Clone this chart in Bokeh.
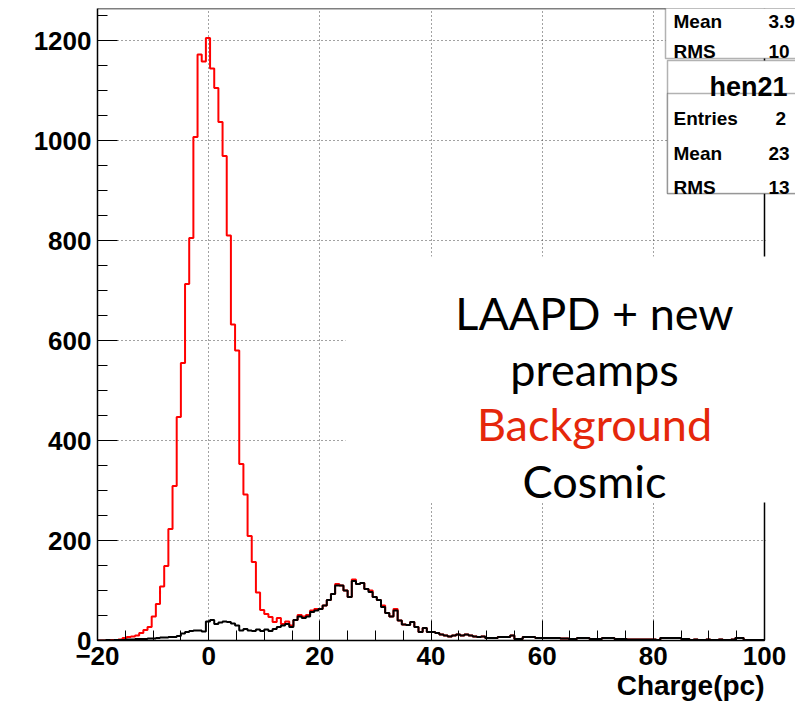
import numpy as np
from bokeh.plotting import figure
from bokeh.models import Range1d, FixedTicker, BoxAnnotation, Label, Span, Title
from bokeh.embed import file_html
from bokeh.resources import INLINE

# ---------------- data ----------------
x_lo, x_hi, bin_w = -20.0, 100.0, 0.75
y_max = 1264

background = [
    0, 0, 0, 1, 0, 2, 5, 7, 8, 10,
    15, 21, 27, 48, 73, 108, 149, 223, 309, 447,
    555, 713, 805, 1007, 1172, 1158, 1205, 1144, 1105, 1037,
    969, 810, 632, 580, 353, 292, 209, 157, 96, 61,
    53, 47, 37, 45, 33, 38, 30, 41, 51, 48,
    51, 60, 63, 63, 70, 81, 93, 113, 110, 100,
    87, 122, 113, 115, 103, 100, 87, 81, 70, 55,
    48, 63, 40, 32, 31, 37, 27, 17, 25, 17,
    17, 15, 12, 10, 8, 10, 12, 10, 12, 10,
    8, 7, 8, 5, 5, 5, 7, 7, 7, 10,
    3, 3, 7, 7, 7, 5, 5, 5, 5, 5,
    5, 4, 4, 3, 3, 5, 5, 5, 3, 3,
    3, 5, 5, 5, 3, 3, 3, 2, 2, 2,
    2, 2, 2, 2, 1, 5, 5, 5, 5, 5,
    3, 3, 1, 2, 1, 1, 2, 1, 1, 2,
    1, 1, 2, 5, 5, 1, 1, 1, 1, 1,
]

cosmic = [
    0, 0, 1, 0, 1, 1, 1, 2, 2, 3,
    3, 3, 4, 4, 5, 6, 6, 7, 7, 9,
    14, 17, 19, 20, 20, 18, 38, 41, 33, 36,
    38, 37, 34, 30, 20, 23, 20, 19, 22, 19,
    22, 19, 23, 27, 30, 33, 27, 41, 48, 45,
    48, 57, 60, 63, 70, 81, 93, 110, 110, 100,
    87, 119, 113, 115, 103, 97, 87, 81, 67, 55,
    48, 60, 40, 32, 31, 37, 27, 17, 25, 17,
    17, 15, 12, 10, 8, 10, 12, 10, 12, 10,
    8, 7, 8, 5, 5, 5, 7, 7, 7, 10,
    3, 3, 7, 7, 7, 5, 5, 5, 5, 5,
    5, 4, 4, 3, 3, 5, 5, 5, 3, 3,
    3, 5, 5, 5, 3, 3, 3, 2, 2, 2,
    2, 2, 2, 2, 1, 5, 5, 5, 5, 5,
    3, 3, 1, 2, 1, 1, 2, 1, 1, 2,
    1, 1, 2, 5, 5, 1, 1, 1, 1, 1,
]

x_ticks = [-20, 0, 20, 40, 60, 80, 100]
y_ticks = [0, 200, 400, 600, 800, 1000, 1200]
x_minor_step = 5
y_minor_step = 50

x_title = "Charge(pc)"
stats_title = "hen21"
stats_prev = [("Mean", "3.9"), ("RMS", "10")]
stats_cur = [("Entries", "2"), ("Mean", "23"), ("RMS", "13")]
note_lines = [("LAAPD + new", "black"), ("preamps", "black"),
              ("Background", "#e5270b"), ("Cosmic", "black")]

# ---------------- layout ----------------
W, H = 795, 705
FL, FR, FT, FB = 97, 764, 8, 640   # histogram frame edges in pixels


def dx(px):
    return x_lo + (px - FL) * (x_hi - x_lo) / (FR - FL)


def dy(py):
    return (FB - py) * y_max / (FB - FT)


# the plotting area runs to the right window edge so that the stats boxes show
p = figure(width=W, height=H,
           x_range=Range1d(x_lo, dx(W)), y_range=Range1d(0, y_max),
           output_backend="svg", toolbar_location=None,
           min_border_left=FL, min_border_right=0,
           min_border_top=FT, min_border_bottom=H - FB)

p.background_fill_color = "white"
p.border_fill_color = "white"
p.outline_line_color = None

p.xaxis.ticker = FixedTicker(ticks=x_ticks,
                             minor_ticks=list(np.arange(x_lo, x_hi + 0.1, x_minor_step)))
p.yaxis.ticker = FixedTicker(ticks=y_ticks,
                             minor_ticks=list(np.arange(0, y_max, y_minor_step)))
p.xaxis.bounds = (x_lo, x_hi)

for ax in (p.xaxis[0], p.yaxis[0]):
    ax.major_tick_in = 20
    ax.major_tick_out = 0
    ax.minor_tick_in = 10
    ax.minor_tick_out = 0
    ax.major_tick_line_color = "black"
    ax.minor_tick_line_color = "black"
    ax.axis_line_color = "black"
    ax.axis_line_width = 1.5
    ax.major_label_text_font = "Liberation Sans"
    ax.major_label_text_font_style = "bold"
    ax.major_label_text_font_size = "26px"
    ax.major_label_text_color = "black"
p.xaxis.major_label_standoff = 6
p.yaxis.major_label_standoff = 6

for g in (p.xgrid[0], p.ygrid[0]):
    g.grid_line_color = "#444444"
    g.grid_line_dash = "1 3"
    g.grid_line_width = 1

# x-axis title, right aligned at the end of the axis
p.add_layout(Title(text=x_title, align="right", offset=(W - FR), standoff=0,
                   text_font="Liberation Sans", text_font_style="bold",
                   text_font_size="28px", text_color="black"), "below")

# ---------------- histograms ----------------
edges = x_lo + bin_w * np.arange(len(background) + 1)
p.step(edges, np.append(background, background[-1]), mode="after",
       line_color="#ff0000", line_width=2)
p.step(edges, np.append(cosmic, cosmic[-1]), mode="after",
       line_color="black", line_width=2)

# ---------------- frame, panels, stats boxes ----------------
white = dict(fill_color="white", fill_alpha=1.0, line_color=None)
# blank strip right of the histogram frame
p.add_layout(BoxAnnotation(left=dx(FR + 1.2), right=dx(W + 10), top=dy(150), bottom=dy(FB + 10), **white))
# top and right frame edges
p.add_layout(Span(location=x_hi, dimension="height", line_color="black", line_width=1.5))
p.add_layout(Span(location=y_max, dimension="width", line_color="black", line_width=1.5))

# white text panel (overlay of the slide)
p.add_layout(BoxAnnotation(left=dx(345), right=dx(W + 10), top=dy(256), bottom=dy(502), **white))

box_kw = dict(fill_color="white", fill_alpha=1.0, line_color="black", line_width=1.5)
p.add_layout(BoxAnnotation(left=dx(665), right=dx(W + 20), top=dy(-10), bottom=dy(58), **box_kw))
p.add_layout(BoxAnnotation(left=dx(667), right=dx(W + 20), top=dy(60), bottom=dy(193), **box_kw))
p.add_layout(BoxAnnotation(left=dx(667), right=dx(W + 20), top=dy(93), bottom=dy(193), **box_kw))

sfont = dict(text_font="Liberation Sans", text_font_style="bold",
             text_font_size="19px", text_color="black", text_baseline="alphabetic")
for (name, val), py in zip(stats_prev, [21, 51]):
    p.add_layout(Label(x=dx(673), y=dy(py), text=name, **sfont))
    p.add_layout(Label(x=dx(768), y=dy(py), text=val, **sfont))
p.add_layout(Label(x=dx(709), y=dy(86), text=stats_title, text_font="Liberation Sans",
                   text_font_style="bold", text_font_size="27px", text_color="black",
                   text_baseline="alphabetic"))
for (name, val), py in zip(stats_cur, [118, 153, 187]):
    p.add_layout(Label(x=dx(673), y=dy(py), text=name, **sfont))
    p.add_layout(Label(x=dx(775 if name == "Entries" else 768), y=dy(py), text=val, **sfont))

# slide text
for (txt, col), py in zip(note_lines, [312, 368, 423, 480]):
    p.add_layout(Label(x=dx(594), y=dy(py), text=txt, text_align="center",
                       text_baseline="alphabetic", text_font="Lato",
                       text_font_size="45px", text_color=col))

open("out.html", "w").write(file_html(p, INLINE))
